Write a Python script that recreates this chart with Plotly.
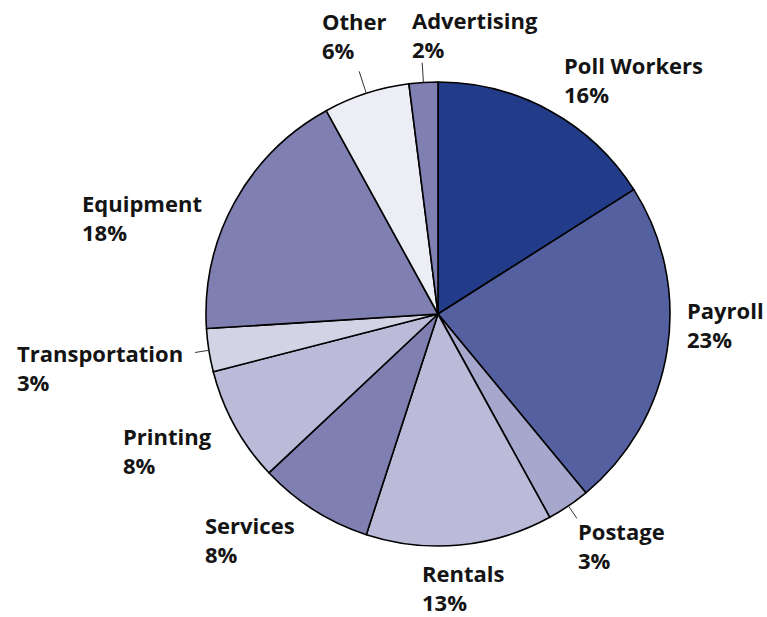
import math
import plotly.graph_objects as go

# ---- data ----
categories = ["Poll Workers", "Payroll", "Postage", "Rentals", "Services",
              "Printing", "Transportation", "Equipment", "Other", "Advertising"]
shares = [16, 23, 3, 13, 8, 8, 3, 18, 6, 2]

# ---- styles ----
slice_colors = ["#233c8a", "#5560a0", "#a5a7cc", "#bbbbd9", "#7f7fb2",
                "#bbbbd9", "#d3d3e6", "#7f7fb2", "#ededf6", "#7f7fb2"]
W, H = 767, 617
CX, CY, R = 438, 314, 232  # pie centre / radius in pixels
FONT = "Open Sans"
FSIZE = 22
TXT = "#141414"

# label placement (pixel position of each label's first cap-top / left edge)
label_pos = {
    "Poll Workers": (565, 57), "Payroll": (688, 302), "Postage": (579, 523),
    "Rentals": (423, 565), "Services": (206, 517), "Printing": (124, 428),
    "Transportation": (18, 345), "Equipment": (83, 195), "Other": (323, 13),
    "Advertising": (413, 12),
}
# short leader lines: outer radius factor
leader_len = {"Advertising": 1.085, "Other": 1.1, "Postage": 1.065,
              "Transportation": 1.06}

fig = go.Figure()
fig.add_trace(go.Pie(
    labels=categories, values=shares, sort=False, direction="clockwise",
    rotation=0, textinfo="none", hoverinfo="label+percent",
    marker=dict(colors=slice_colors, line=dict(color="#000000", width=1.6)),
    domain=dict(x=[(CX - R) / W, (CX + R) / W],
                y=[(H - CY - R) / H, (H - CY + R) / H]),
    showlegend=False,
))

total = sum(shares)
annotations = []
for name, v in zip(categories, shares):
    pct = round(100 * v / total)
    px, py = label_pos[name]
    px -= 3   # glyph side bearing / pad
    py -= 9   # cap top sits below box top
    annotations.append(dict(
        x=px / W, y=1 - py / H, xref="paper", yref="paper",
        xanchor="left", yanchor="top", align="left", showarrow=False,
        text=f"<b>{name}<br>{pct}%</b>",
        font=dict(family=FONT, size=FSIZE, color=TXT),
    ))

shapes = []
cum = 0
for name, v in zip(categories, shares):
    mid = (cum + v / 2) / total * 2 * math.pi
    cum += v
    if name in leader_len:
        r0, r1 = R * 1.0, R * leader_len[name]
        x0 = CX + r0 * math.sin(mid); y0 = CY - r0 * math.cos(mid)
        x1 = CX + r1 * math.sin(mid); y1 = CY - r1 * math.cos(mid)
        shapes.append(dict(type="line", xref="paper", yref="paper",
                           x0=x0 / W, y0=1 - y0 / H, x1=x1 / W, y1=1 - y1 / H,
                           line=dict(color="#333333", width=1)))

fig.update_layout(
    width=W, height=H, margin=dict(l=0, r=0, t=0, b=0),
    paper_bgcolor="white", plot_bgcolor="white",
    annotations=annotations, shapes=shapes,
    font=dict(family=FONT),
)
fig.write_html("out.html", config={"displayModeBar": False},
               post_script="document.body.style.margin='0';")
